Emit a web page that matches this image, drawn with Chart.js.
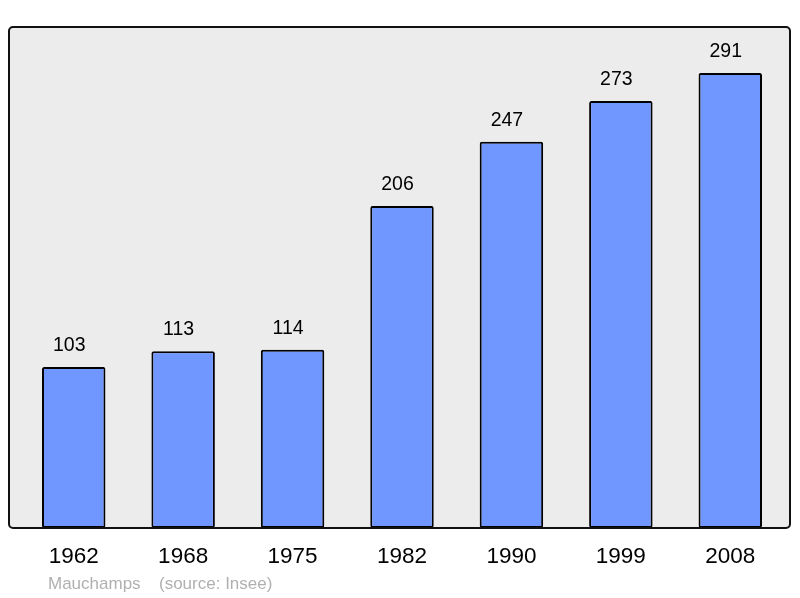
<!DOCTYPE html>
<html>
<head>
<meta charset="utf-8">
<script src="https://cdn.jsdelivr.net/npm/chart.js@4/dist/chart.umd.min.js"></script>
<style>
  html, body { margin: 0; padding: 0; background: #fff; }
  canvas { display: block; }
</style>
</head>
<body>
<canvas id="popChart" width="800" height="598"></canvas>
<script>
const years = ["1962", "1968", "1975", "1982", "1990", "1999", "2008"];
const population = [103, 113, 114, 206, 247, 273, 291];
const commune = "Mauchamps";
const source = "(source: Insee)";

// Frame + background, value labels, year labels and footer
const decorations = {
  id: "decorations",
  beforeDatasetsDraw(chart) {
    const ctx = chart.ctx;
    ctx.save();
    ctx.beginPath();
    ctx.roundRect(9, 27, 781, 501, 4);
    ctx.fillStyle = "#ececec";
    ctx.fill();
    ctx.restore();
  },
  afterDatasetsDraw(chart) {
    const ctx = chart.ctx;
    const meta = chart.getDatasetMeta(0);
    ctx.save();
    ctx.beginPath();
    ctx.roundRect(9, 27, 781, 501, 4);
    ctx.lineWidth = 2;
    ctx.strokeStyle = "#111";
    ctx.stroke();

    ctx.fillStyle = "#000";
    ctx.textAlign = "center";
    ctx.textBaseline = "middle";
    ctx.font = "19.5px 'Liberation Sans', Arial, sans-serif";
    meta.data.forEach((bar, i) => {
      ctx.fillText(String(population[i]), bar.x - 4.5, bar.y - 21.5);
    });

    ctx.font = "22.5px 'Liberation Sans', Arial, sans-serif";
    meta.data.forEach((bar, i) => {
      ctx.fillText(years[i], bar.x, 557);
    });

    ctx.textAlign = "left";
    ctx.fillStyle = "#b0b0b0";
    ctx.font = "17px 'Liberation Sans', Arial, sans-serif";
    ctx.fillText(commune, 48, 584);
    ctx.fillText(source, 159, 584);
    ctx.restore();
  }
};

new Chart(document.getElementById("popChart").getContext("2d"), {
  type: "bar",
  data: {
    labels: years,
    datasets: [{
      data: population,
      backgroundColor: "#7097ff",
      borderColor: "#000",
      borderWidth: 2,
      borderRadius: 2,
      borderSkipped: false,
      barPercentage: 0.58,
      categoryPercentage: 1
    }]
  },
  options: {
    responsive: false,
    animation: false,
    layout: { padding: { left: 19, right: 15, top: 27, bottom: 70 } },
    scales: {
      x: { display: false },
      y: { display: false, min: 0, max: 320.4 }
    },
    plugins: {
      legend: { display: false },
      tooltip: { enabled: false }
    }
  },
  plugins: [decorations]
});
</script>
</body>
</html>
